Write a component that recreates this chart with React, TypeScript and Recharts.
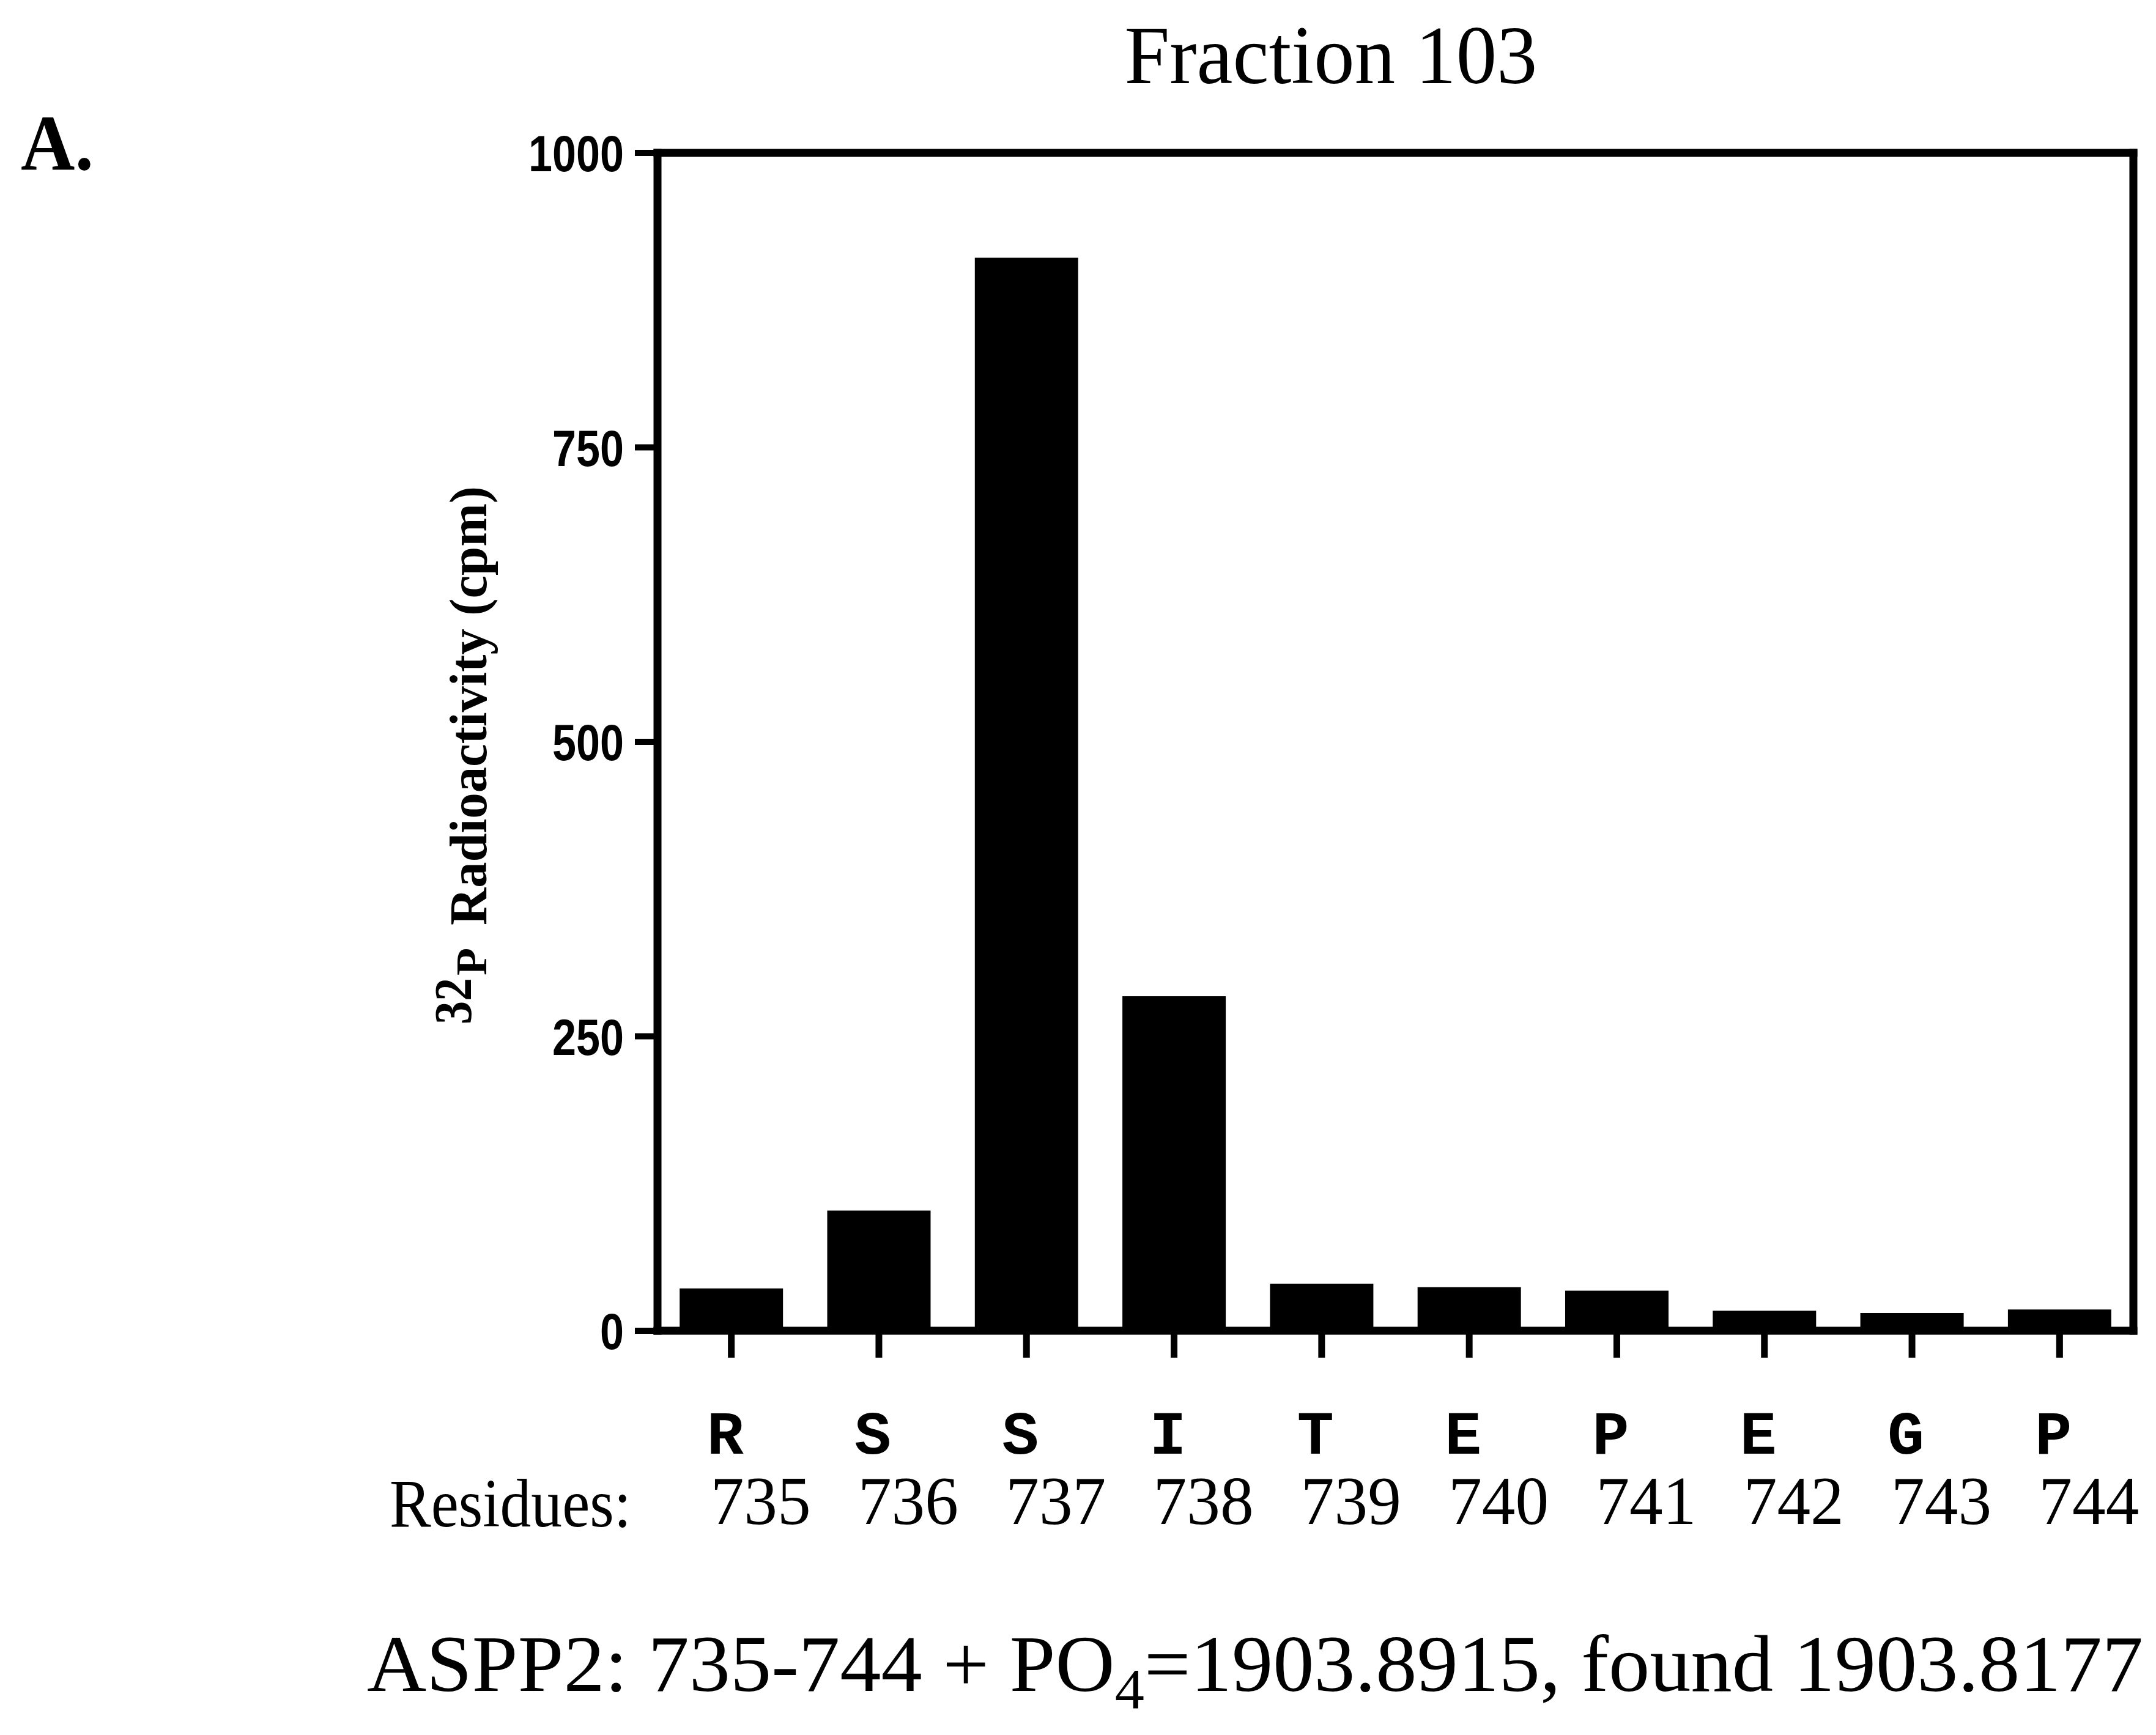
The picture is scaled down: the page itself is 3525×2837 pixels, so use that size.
import React from "react";
import { BarChart, Bar, XAxis, YAxis } from "recharts";

// residue numbers along the x axis, one-letter codes above them
const residues = ["735", "736", "737", "738", "739", "740", "741", "742", "743", "744"];
const aminoAcids = ["R", "S", "S", "I", "T", "E", "P", "E", "G", "P"];
// 32P radioactivity released per Edman cycle (cpm)
const cpm = [36, 102, 911, 284, 40, 37, 34, 17, 15, 18];
const cpmTicks = [0, 250, 500, 750, 1000];

const data = residues.map((r, i) => ({ residue: r, aa: aminoAcids[i], cpm: cpm[i] }));

const W = 3525;
const H = 2837;
const PLOT = { left: 1075, right: 3488, top: 250, bottom: 2176 };
const Y_AXIS_W = 200;
const X_AXIS_H = 60;
const LINE = { stroke: "#000", strokeWidth: 13, strokeLinecap: "square" as const };

const serif = "'Liberation Serif', 'Times New Roman', serif";

const CpmTick = (props: any) => {
  const { x, y, payload } = props;
  const s = String(payload.value);
  return (
    <text
      x={x}
      y={y}
      dy={30}
      textAnchor="end"
      fontFamily="'Liberation Sans', Arial, sans-serif"
      fontWeight={700}
      fontSize={84}
      fill="#000"
      textLength={39 * s.length}
      lengthAdjust="spacingAndGlyphs"
    >
      {s}
    </text>
  );
};

const ResidueTick = (props: any) => {
  const { x, y, payload } = props;
  const i = residues.indexOf(String(payload.value));
  return (
    <g>
      <text
        x={x - 10}
        y={y + 155}
        textAnchor="middle"
        fontFamily="'Liberation Mono', 'Courier New', monospace"
        fontWeight={700}
        fontSize={100}
        fill="#000"
      >
        {aminoAcids[i]}
      </text>
      <text
        x={x + 48}
        y={y + 270}
        textAnchor="middle"
        fontFamily={serif}
        fontSize={112}
        fill="#000"
        textLength={164}
        lengthAdjust="spacingAndGlyphs"
      >
        {payload.value}
      </text>
    </g>
  );
};

export default function App() {
  return (
    <div style={{ position: "absolute", left: 0, top: 0, width: W, height: H, background: "#fff" }}>
      <BarChart
        width={W}
        height={H}
        data={data}
        barCategoryGap="15%"
        margin={{
          top: PLOT.top - 1,
          left: PLOT.left - Y_AXIS_W,
          right: W - PLOT.right - 1,
          bottom: H - PLOT.bottom - X_AXIS_H,
        }}
      >
        <XAxis
          dataKey="residue"
          height={X_AXIS_H}
          interval={0}
          tickSize={44}
          axisLine={LINE}
          tickLine={{ stroke: "#000", strokeWidth: 11 }}
          tick={<ResidueTick />}
        />
        <XAxis
          xAxisId="top"
          orientation="top"
          dataKey="residue"
          height={1}
          tick={false}
          tickLine={false}
          axisLine={LINE}
        />
        <YAxis
          type="number"
          domain={[0, 1000]}
          ticks={cpmTicks}
          width={Y_AXIS_W}
          tickSize={37}
          tickMargin={18}
          axisLine={LINE}
          tickLine={{ stroke: "#000", strokeWidth: 10 }}
          tick={<CpmTick />}
        />
        <YAxis
          yAxisId="right"
          orientation="right"
          type="number"
          domain={[0, 1000]}
          width={1}
          tick={false}
          tickLine={false}
          axisLine={LINE}
        />
        <Bar dataKey="cpm" fill="#000" isAnimationActive={false} />
      </BarChart>

      <svg
        width={W}
        height={H}
        style={{ position: "absolute", left: 0, top: 0, pointerEvents: "none" }}
      >
        <text x={2176} y={136} textAnchor="middle" fontFamily={serif} fontSize={136} textLength={675} lengthAdjust="spacingAndGlyphs">
          Fraction 103
        </text>
        <text x={34} y={277} fontFamily={serif} fontWeight={700} fontSize={130} textLength={119} lengthAdjust="spacingAndGlyphs">
          A.
        </text>
        <g transform="translate(795,1235) rotate(-90)" fontFamily={serif} fontWeight={700}>
          <text x={-440} y={-25} fontSize={86} textLength={76} lengthAdjust="spacingAndGlyphs">
            32
          </text>
          <text x={-360} y={0} fontSize={72} textLength={45} lengthAdjust="spacingAndGlyphs">
            P
          </text>
          <text x={-278} y={0} fontSize={86} textLength={718} lengthAdjust="spacingAndGlyphs">
            Radioactivity (cpm)
          </text>
        </g>
        <text x={637} y={2496} fontFamily={serif} fontSize={113} textLength={395} lengthAdjust="spacingAndGlyphs">
          Residues:
        </text>
        <text x={600} y={2765} fontFamily={serif} fontSize={131} textLength={2904} lengthAdjust="spacingAndGlyphs">
          ASPP2: 735-744 + PO<tspan dy={28} fontSize={94}>4</tspan>
          <tspan dy={-28}>=1903.8915, found 1903.8177</tspan>
        </text>
      </svg>
    </div>
  );
}
